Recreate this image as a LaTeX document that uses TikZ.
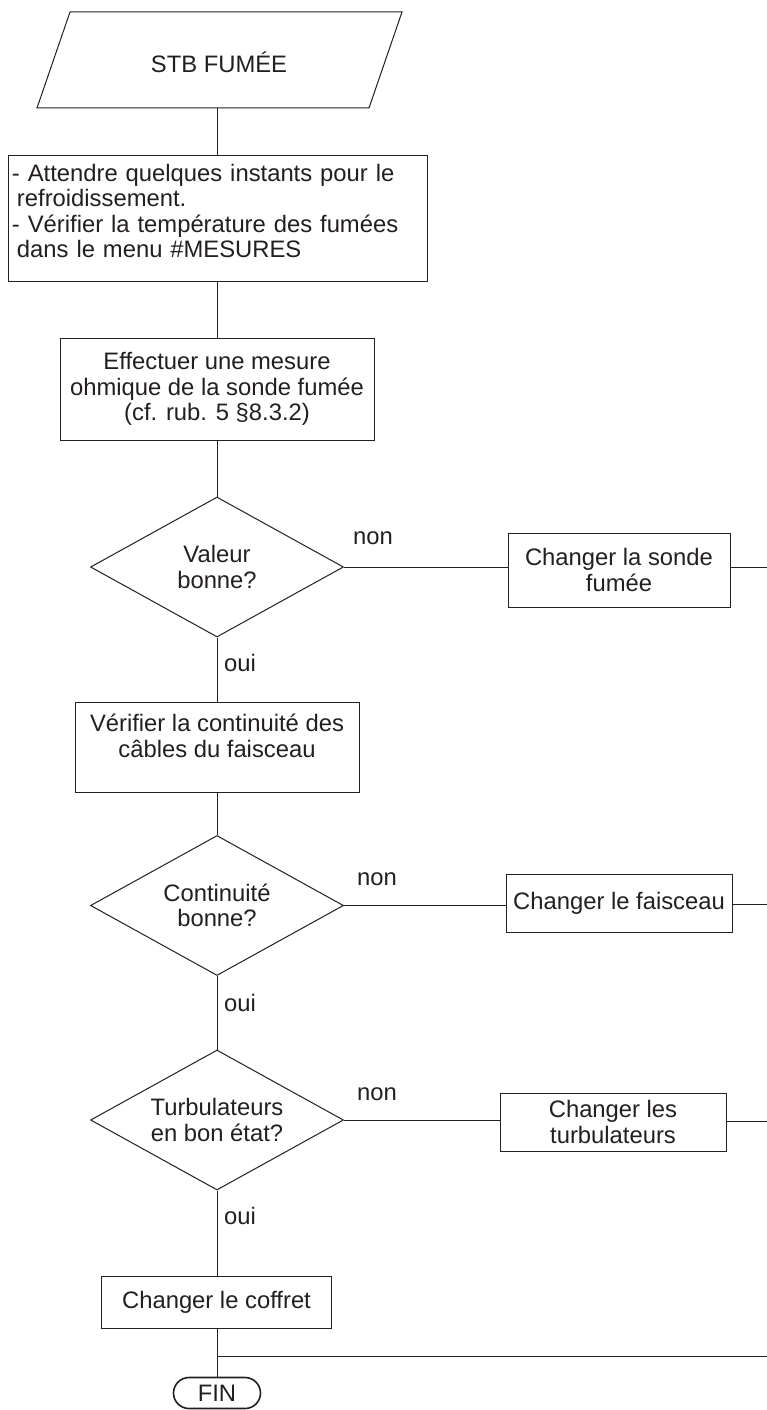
\documentclass[tikz,border=0pt]{standalone}
\usepackage{fontspec}
\setmainfont{Liberation Sans}
\usetikzlibrary{shapes.geometric,shapes.misc}
\definecolor{ink}{RGB}{35,31,32}
\newcommand{\lowpad}[1]{\rule[-#1]{0pt}{1pt}}
\begin{document}
\begin{tikzpicture}[x=1pt,y=-1pt, line width=1pt, draw=ink, text=ink,
  every node/.style={font=\fontsize{23.8}{25.5}\selectfont},
  box/.style={draw=ink, align=center, inner sep=0pt},
  dec/.style={draw=ink, diamond, aspect=1.8, inner sep=0pt, minimum width=253pt, minimum height=140pt, align=center},
  lab/.style={inner sep=0pt},
  term/.style={draw=ink, rounded rectangle, line width=1.6pt, minimum width=87pt, minimum height=31pt, inner sep=0pt},
  conn/.style={draw=ink, line width=1pt}]
\fill[white] (0,0) rectangle (767,1410);
\useasboundingbox (0,0) rectangle (767,1410);

% start parallelogram
\draw[ink] (70,12) -- (402,12) -- (369,108) -- (37,108) -- cycle;
\node[lab] (start) at (219,62) {STB FUMÉE};
\coordinate (startb) at (217,108);

\node[box, minimum width=419pt, minimum height=126pt, text width=411pt, inner xsep=4pt, align=left] (b1) at (217.5,218)
  {- Attendre quelques instants pour le\\\hspace*{5pt}refroidissement.\\- Vérifier la température des fumées\\\hspace*{5pt}dans le menu \#MESURES\lowpad{14pt}};

\node[box, minimum width=314pt, minimum height=102pt] (b2) at (217,389)
  {Effectuer une mesure\\ohmique de la sonde fumée\\(cf. rub. 5 §8.3.2)};

\node[dec] (d1) at (217,567) {Valeur\\bonne?};
\node[box, minimum width=222pt, minimum height=74pt] (r1) at (619,570) {Changer la sonde\\fumée};
\coordinate (e1) at (767,567);

\node[box, minimum width=284pt, minimum height=90pt] (b3) at (217,747)
  {Vérifier la continuité des\\câbles du faisceau\lowpad{23pt}};

\node[dec] (d2) at (217,905.5) {Continuité\\bonne?};
\node[box, minimum width=226pt, minimum height=58pt] (r2) at (619,903.5) {Changer le faisceau};
\coordinate (e2) at (767,904);

\node[dec] (d3) at (217,1120) {Turbulateurs\\en bon état?};
\node[box, minimum width=226pt, minimum height=58pt] (r3) at (613,1122) {Changer les\\turbulateurs};
\coordinate (e3) at (767,1121);

\node[box, minimum width=230pt, minimum height=52pt] (b4) at (216.5,1302) {Changer le coffret};
\node[term] (fin) at (217,1393) {FIN};
\coordinate (j) at (217,1356);
\coordinate (e4) at (767,1356);

% connectors
\draw[conn] (startb) -- (b1.north -| startb);
\draw[conn] (b1.south -| startb) -- (b2.north -| startb);
\draw[conn] (b2.south -| startb) -- (d1.north);
\draw[conn] (d1.east) -- (r1.west |- d1.east);
\draw[conn] (r1.east |- e1) -- (e1);
\draw[conn] (d1.south) -- (b3.north -| d1.south);
\draw[conn] (b3.south -| d1.south) -- (d2.north);
\draw[conn] (d2.east) -- (r2.west |- d2.east);
\draw[conn] (r2.east |- e2) -- (e2);
\draw[conn] (d2.south) -- (d3.north);
\draw[conn] (d3.east) -- (r3.west |- d3.east);
\draw[conn] (r3.east |- e3) -- (e3);
\draw[conn] (d3.south) -- (b4.north -| d3.south);
\draw[conn] (b4.south -| d3.south) -- (fin.north);
\draw[conn] (j) -- (e4);

% labels
\node[lab] at (373,538) {non};
\node[lab] at (377,879) {non};
\node[lab] at (377,1094) {non};
\node[lab] at (240,663) {oui};
\node[lab] at (240,1003) {oui};
\node[lab] at (240,1216) {oui};
\end{tikzpicture}
\end{document}
